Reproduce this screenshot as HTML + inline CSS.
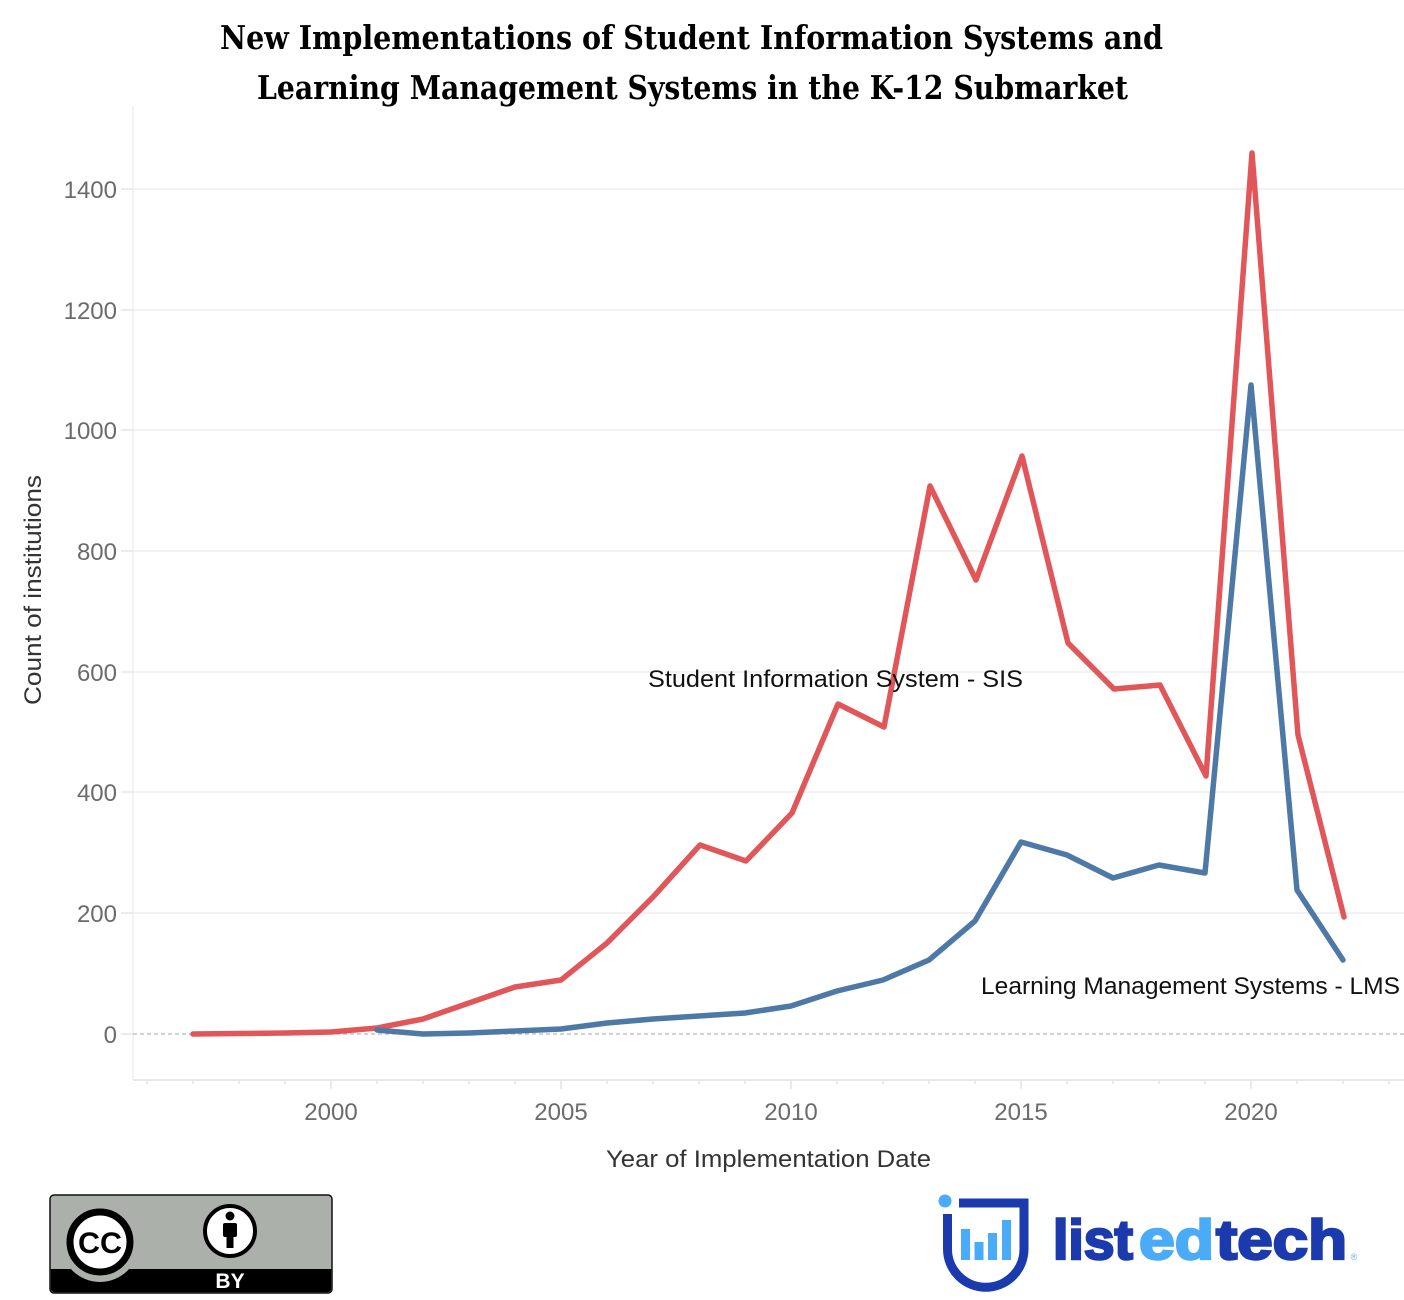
<!DOCTYPE html>
<html>
<head>
<meta charset="utf-8">
<style>
  html,body{margin:0;padding:0;background:#fff;}
  svg{display:block;}
</style>
</head>
<body>
<svg width="1404" height="1300" viewBox="0 0 1404 1300" xmlns="http://www.w3.org/2000/svg">
  <rect x="0" y="0" width="1404" height="1300" fill="#ffffff"/>

  <!-- Title -->
  <text x="220" y="49" textLength="943" lengthAdjust="spacingAndGlyphs" font-family="'DejaVu Serif', 'Liberation Serif', serif" font-weight="bold" font-size="33" fill="#000">New Implementations of Student Information Systems and</text>
  <text x="257" y="99" textLength="871" lengthAdjust="spacingAndGlyphs" font-family="'DejaVu Serif', 'Liberation Serif', serif" font-weight="bold" font-size="33" fill="#000">Learning Management Systems in the K-12 Submarket</text>

  <!-- Axes frame -->
  <line x1="133" y1="106" x2="133" y2="1080" stroke="#efefef" stroke-width="1.5"/>
  <line x1="133" y1="1080" x2="1404" y2="1080" stroke="#e8e8e8" stroke-width="2"/>

  <!-- Gridlines -->
  <g stroke="#ededed" stroke-width="1.5">
    <line x1="133" y1="189" x2="1404" y2="189"/>
    <line x1="133" y1="310" x2="1404" y2="310"/>
    <line x1="133" y1="430" x2="1404" y2="430"/>
    <line x1="133" y1="551" x2="1404" y2="551"/>
    <line x1="133" y1="672" x2="1404" y2="672"/>
    <line x1="133" y1="792" x2="1404" y2="792"/>
    <line x1="133" y1="913" x2="1404" y2="913"/>
  </g>
  <!-- Y ticks -->
  <g stroke="#e6e6e6" stroke-width="1.5">
    <line x1="121" y1="189" x2="133" y2="189"/>
    <line x1="121" y1="310" x2="133" y2="310"/>
    <line x1="121" y1="430" x2="133" y2="430"/>
    <line x1="121" y1="551" x2="133" y2="551"/>
    <line x1="121" y1="672" x2="133" y2="672"/>
    <line x1="121" y1="792" x2="133" y2="792"/>
    <line x1="121" y1="913" x2="133" y2="913"/>
    <line x1="121" y1="1034" x2="133" y2="1034"/>
  </g>
  <!-- Zero line dashed -->
  <line x1="133" y1="1034" x2="1404" y2="1034" stroke="#b8b8b8" stroke-width="1.2" stroke-dasharray="4,3"/>

  <!-- X ticks -->
  <g stroke="#e2e2e2" stroke-width="1.5">
    <line x1="147" y1="1080" x2="147" y2="1084"/>
    <line x1="193" y1="1080" x2="193" y2="1084"/>
    <line x1="239" y1="1080" x2="239" y2="1084"/>
    <line x1="285" y1="1080" x2="285" y2="1084"/>
    <line x1="331" y1="1080" x2="331" y2="1089"/>
    <line x1="377" y1="1080" x2="377" y2="1084"/>
    <line x1="423" y1="1080" x2="423" y2="1084"/>
    <line x1="469" y1="1080" x2="469" y2="1084"/>
    <line x1="515" y1="1080" x2="515" y2="1084"/>
    <line x1="561" y1="1080" x2="561" y2="1089"/>
    <line x1="607" y1="1080" x2="607" y2="1084"/>
    <line x1="653" y1="1080" x2="653" y2="1084"/>
    <line x1="699" y1="1080" x2="699" y2="1084"/>
    <line x1="745" y1="1080" x2="745" y2="1084"/>
    <line x1="791" y1="1080" x2="791" y2="1089"/>
    <line x1="837" y1="1080" x2="837" y2="1084"/>
    <line x1="883" y1="1080" x2="883" y2="1084"/>
    <line x1="929" y1="1080" x2="929" y2="1084"/>
    <line x1="975" y1="1080" x2="975" y2="1084"/>
    <line x1="1021" y1="1080" x2="1021" y2="1089"/>
    <line x1="1067" y1="1080" x2="1067" y2="1084"/>
    <line x1="1113" y1="1080" x2="1113" y2="1084"/>
    <line x1="1159" y1="1080" x2="1159" y2="1084"/>
    <line x1="1205" y1="1080" x2="1205" y2="1084"/>
    <line x1="1251" y1="1080" x2="1251" y2="1089"/>
    <line x1="1297" y1="1080" x2="1297" y2="1084"/>
    <line x1="1343" y1="1080" x2="1343" y2="1084"/>
    <line x1="1389" y1="1080" x2="1389" y2="1084"/>
  </g>

  <!-- Y tick labels -->
  <g font-family="'Liberation Sans', sans-serif" font-size="24" fill="#6b6b6b" text-anchor="end">
    <text x="117" y="198">1400</text>
    <text x="117" y="319">1200</text>
    <text x="117" y="439">1000</text>
    <text x="117" y="560">800</text>
    <text x="117" y="681">600</text>
    <text x="117" y="801">400</text>
    <text x="117" y="922">200</text>
    <text x="117" y="1043">0</text>
  </g>

  <!-- X tick labels -->
  <g font-family="'Liberation Sans', sans-serif" font-size="24" fill="#6b6b6b" text-anchor="middle">
    <text x="331" y="1120">2000</text>
    <text x="561" y="1120">2005</text>
    <text x="791" y="1120">2010</text>
    <text x="1021" y="1120">2015</text>
    <text x="1251" y="1120">2020</text>
  </g>

  <!-- Axis titles -->
  <text x="606" y="1167" textLength="325" lengthAdjust="spacingAndGlyphs" font-family="'Liberation Sans', sans-serif" font-size="24" fill="#333">Year of Implementation Date</text>
  <text transform="translate(41,705) rotate(-90)" x="0" y="0" textLength="230" lengthAdjust="spacingAndGlyphs" font-family="'Liberation Sans', sans-serif" font-size="24" fill="#333">Count of institutions</text>

  <!-- SIS series -->
  <polyline fill="none" stroke="#e15759" stroke-width="5.5" stroke-linejoin="round" stroke-linecap="round"
    points="193,1034 239,1033.5 285,1033 331,1032 377,1028 423,1019 469,1003 515,987 561,980 607,943 653,897 700,845 746,861 792,813 838,704 884,727 930,486 976,580 1022,456 1068,643 1114,689 1160,685 1206,776 1252,153 1298,735 1344,917"/>

  <!-- LMS series -->
  <polyline fill="none" stroke="#4e79a7" stroke-width="5.5" stroke-linejoin="round" stroke-linecap="round"
    points="377,1030 423,1034 469,1033 515,1031 561,1029 607,1023 653,1019 699,1016 745,1013 791,1006 837,991 883,980 929,960 975,921 1021,842 1067,855 1113,878 1159,865 1205,873 1251,385 1297,890 1343,960"/>

  <!-- Annotations -->
  <text x="648" y="687" textLength="375" lengthAdjust="spacingAndGlyphs" font-family="'Liberation Sans', sans-serif" font-size="24" fill="#111">Student Information System - SIS</text>
  <text x="981" y="994" textLength="419" lengthAdjust="spacingAndGlyphs" font-family="'Liberation Sans', sans-serif" font-size="24" fill="#111">Learning Management Systems - LMS</text>

  <!-- CC BY badge -->
  <rect x="50" y="1195" width="282" height="98" rx="4" ry="4" fill="#abb1aa" stroke="#111" stroke-width="1.5"/>
  <path d="M50.75,1269 H331.25 V1289 A4,4 0 0 1 327.25,1292.25 H54.75 A4,4 0 0 1 50.75,1289 Z" fill="#000"/>
  <circle cx="100" cy="1243" r="39" fill="#abb1aa"/>
  <circle cx="100" cy="1242" r="30" fill="#fff" stroke="#000" stroke-width="7"/>
  <text x="100" y="1253" text-anchor="middle" font-family="'Liberation Sans', sans-serif" font-weight="bold" font-size="30" fill="#000" textLength="44" lengthAdjust="spacingAndGlyphs">CC</text>
  <circle cx="230" cy="1231" r="25" fill="#fff" stroke="#000" stroke-width="4"/>
  <circle cx="230" cy="1216" r="4.5" fill="#000"/>
  <rect x="223" y="1223" width="14" height="14" rx="2" fill="#000"/>
  <rect x="226.5" y="1235" width="7" height="13" fill="#000"/>
  <text x="230" y="1288" text-anchor="middle" font-family="'Liberation Sans', sans-serif" font-weight="bold" font-size="21" fill="#fff">BY</text>

  <!-- listedtech logo -->
  <circle cx="945" cy="1201" r="6.5" fill="#4aacf9"/>
  <path d="M947.5,1214 V1249 A38,38 0 0 0 1024,1249 V1203 H959" fill="none" stroke="#1a3aae" stroke-width="9"/>
  <g fill="#4aacf9">
    <rect x="961" y="1229" width="9" height="31"/>
    <rect x="974.5" y="1242" width="9" height="18"/>
    <rect x="988" y="1233" width="9" height="27"/>
    <rect x="1002" y="1220" width="9" height="40"/>
  </g>
  <g font-family="'Liberation Sans', 'DejaVu Sans', sans-serif" font-weight="bold" font-size="56" stroke-width="2.5">
    <text x="1053" y="1259" textLength="80" lengthAdjust="spacingAndGlyphs" fill="#1a3aae" stroke="#1a3aae">list</text>
    <text x="1139" y="1259" textLength="75" lengthAdjust="spacingAndGlyphs" fill="#4aacf9" stroke="#4aacf9">ed</text>
    <text x="1216" y="1259" textLength="131" lengthAdjust="spacingAndGlyphs" fill="#1a3aae" stroke="#1a3aae">tech</text>
  </g>
  <text x="1354" y="1260" text-anchor="middle" font-family="'Liberation Sans', sans-serif" font-size="9" fill="#6aa8e0">®</text>
</svg>
</body>
</html>
